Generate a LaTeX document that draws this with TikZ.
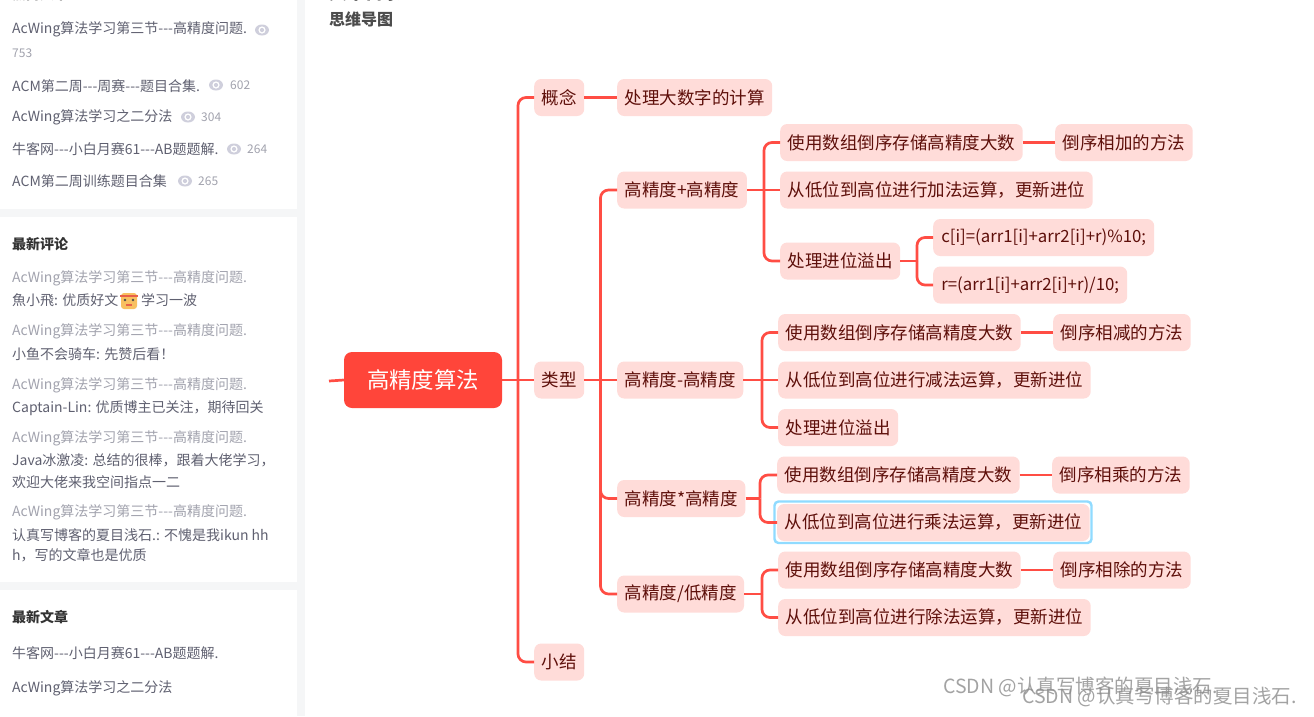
\documentclass[tikz,border=0pt]{standalone}
\usepackage{fontspec}
\setmainfont[Ligatures=TeXOff]{Noto Sans CJK SC}
\usepackage{xcolor}
\usetikzlibrary{calc}
\definecolor{pagebg}{HTML}{F5F6F7}
\definecolor{mapred}{HTML}{FF453A}
\definecolor{mapline}{HTML}{FF4D44}
\definecolor{mapfill}{HTML}{FFDCD9}
\definecolor{mapink}{HTML}{5E0F0A}
\definecolor{focusblue}{HTML}{90DBFF}
\definecolor{sidegray}{HTML}{5F6070}
\definecolor{lightgray2}{HTML}{A2A3AE}
\definecolor{eyegray}{HTML}{CFCFDC}
\definecolor{markgray}{HTML}{8C8C8C}
\definecolor{facecol}{HTML}{F8C060}
\definecolor{bandcol}{HTML}{E8604A}
\tikzset{
  topic/.style={fill=mapfill,rounded corners=7pt,text=mapink,anchor=west,inner xsep=7.5pt,
    inner ysep=0pt,minimum height=37pt,font=\fontsize{17.5}{20}\selectfont},
  codetopic/.style={topic,font=\fontsize{16.8}{20}\selectfont},
  rootbox/.style={fill=mapred,rounded corners=8pt,text=white,minimum width=158pt,
    minimum height=56pt,font=\fontsize{22.4}{26}\selectfont},
  link/.style={draw=mapline,line width=2.7pt,rounded corners=8pt},
  side/.style={anchor=west,inner sep=0pt,yshift=-0.7pt,text=sidegray,font=\fontsize{14}{17}\selectfont},
  sidelight/.style={side,text=lightgray2},
  sidehead/.style={side,text=black!80,font=\fontsize{14}{17}\selectfont\bfseries},
  numtag/.style={side,text=lightgray2,font=\fontsize{12}{14}\selectfont},
  wmark/.style={anchor=west,inner sep=0pt,text=markgray,opacity=0.8,font=\fontsize{19.5}{22}\selectfont},
}
\newcommand{\eyeicon}[2]{%
  \fill[eyegray] (#1,#2) ellipse (7pt and 5.5pt);
  \fill[white] (#1,#2) circle (3.6pt);
  \fill[eyegray] (#1,#2) circle (2.1pt);
}
\begin{document}
\begin{tikzpicture}[x=1pt,y=-1pt]
  \useasboundingbox (0,0) rectangle (1314,716);

  % page and panels
  \fill[pagebg] (0,0) rectangle (1314,716);
  \fill[white] (0,-5) rectangle (297,209);
  \fill[white] (0,217) rectangle (297,582);
  \fill[white] (0,590) rectangle (297,720);
  \fill[white] (305,-5) rectangle (1314,720);

  % cut off at the top
  \node[sidehead] (hothead) at (12,-6.5) {热门文章};
  \node[side,text=black!80,font=\fontsize{18}{19}\selectfont\bfseries] (tochead) at (329,-8.5) {文章目录};
  \node[side,text=black!70,font=\fontsize{16}{19}\selectfont\bfseries] (maphead) at (329,19) {思维导图};

  % most read
  \foreach \i/\ypos/\txt in {1/29/AcWing算法学习第三节---高精度问题.,2/85/ACM第二周---周赛---题目合集.,
      3/117/AcWing算法学习之二分法,4/148/牛客网---小白月赛61---AB题题解.,5/180/ACM第二周训练题目合集}
    \node[side] (read\i) at (12,\ypos) {\txt};
  \foreach \xpos/\ypos in {262/30,216/85,188/117,234/149,185/181}{
    \eyeicon{\xpos}{\ypos}
  }
  \node[numtag] (num1) at (12,53) {753};
  \node[numtag] (num2) at (230,85) {602};
  \node[numtag] (num3) at (201,117) {304};
  \node[numtag] (num4) at (247,149) {264};
  \node[numtag] (num5) at (198,181) {265};

  % latest comments
  \node[sidehead] (commenthead) at (12,243) {最新评论};
  \foreach \i/\ypos in {1/278,2/331,3/385,4/438,5/512}
    \node[sidelight] (ctitle\i) at (12,\ypos) {AcWing算法学习第三节---高精度问题.};
  \node[side] (cmt1) at (12,299.5) {魚小飛: 优质好文};
  \fill[facecol,rounded corners=3pt] (121,293) rectangle (137,309);
  \fill[bandcol] (120,294.5) rectangle (138,296.5);
  \fill[black!70] (125,300) circle (1.3pt) (133,300) circle (1.3pt);
  \fill[bandcol] (126,304) rectangle (132,306);
  \node[side] (cmt1b) at (141,299.5) {学习一波};
  \node[side] (cmt2) at (12,353) {小鱼不会骑车: 先赞后看！};
  \node[side] (cmt3) at (12,407) {Captain-Lin: 优质博主已关注，期待回关};
  \node[side] (cmt4) at (12,460) {Java冰激凌: 总结的很棒，跟着大佬学习，};
  \node[side] (cmt4b) at (12,481) {欢迎大佬来我空间指点一二};
  \node[side] (cmt5) at (12,534) {认真写博客的夏目浅石.: 不愧是我ikun hh};
  \node[side] (cmt5b) at (12,555) {h，写的文章也是优质};

  % latest articles
  \node[sidehead] (posthead) at (12,616) {最新文章};
  \node[side] (post1) at (12,652) {牛客网---小白月赛61---AB题题解.};
  \node[side] (post2) at (12,688) {AcWing算法学习之二分法};

  % map: first levels
  \node[rootbox] (root) at (423,380) {高精度算法};
  \node[topic] (concept) at (534,97.5) {概念};
  \node[topic] (kinds) at (534,380) {类型};
  \node[topic] (summary) at (534,662) {小结};
  \node[topic] (bignum) at (617,97.5) {处理大数字的计算};

  % addition
  \node[topic] (add) at (617,190) {高精度+高精度};
  \node[topic] (addstore) at (780,142.5) {使用数组倒序存储高精度大数};
  \node[topic] (addway) at (1055,142.5) {倒序相加的方法};
  \node[topic] (addrun) at (780,190) {从低位到高位进行加法运算，更新进位};
  \node[topic] (addover) at (780,261) {处理进位溢出};
  \node[codetopic,minimum width=221pt] (addc) at (933,237.5) {c[i]=(arr1[i]+arr2[i]+r)\%10;};
  \node[codetopic,minimum width=194pt] (addr) at (933,285) {r=(arr1[i]+arr2[i]+r)/10;};

  % subtraction
  \node[topic] (sub) at (617,380) {高精度-高精度};
  \node[topic] (substore) at (778,332.5) {使用数组倒序存储高精度大数};
  \node[topic] (subway) at (1053,332.5) {倒序相减的方法};
  \node[topic] (subrun) at (778,380) {从低位到高位进行减法运算，更新进位};
  \node[topic] (subover) at (778,427.5) {处理进位溢出};

  % multiplication
  \draw[focusblue,line width=2.4pt,rounded corners=4pt] (774.5,501.5) rectangle (1091.5,543);
  \node[topic] (mul) at (617,498.5) {高精度*高精度};
  \node[topic] (mulstore) at (777,475) {使用数组倒序存储高精度大数};
  \node[topic] (mulway) at (1052,475) {倒序相乘的方法};
  \node[topic] (mulrun) at (777,522.5) {从低位到高位进行乘法运算，更新进位};

  % division
  \node[topic] (dvd) at (617,594) {高精度/低精度};
  \node[topic] (dvdstore) at (778,570) {使用数组倒序存储高精度大数};
  \node[topic] (dvdway) at (1053,570) {倒序相除的方法};
  \node[topic] (dvdrun) at (778,617.5) {从低位到高位进行除法运算，更新进位};

  % connectors
  \coordinate (stub) at (329,381);
  \coordinate (trunkA) at (518,380);
  \coordinate (trunkB) at (600.5,380);
  \coordinate (addbar) at (764,190);
  \coordinate (overbar) at (917,261);
  \coordinate (subbar) at (762,380);
  \coordinate (mulbar) at (760,498.5);
  \coordinate (dvdbar) at (762,594);
  \draw[link] (stub) -- (root.west);
  \draw[link] (root.east) -- (kinds.west);
  \draw[link] (trunkA) |- (concept.west);
  \draw[link] (trunkA) |- (summary.west);
  \draw[link] (concept.east) -- (bignum.west);
  \draw[link] (kinds.east) -- (sub.west);
  \draw[link] (trunkB) |- (add.west);
  \draw[link] (trunkB) |- (mul.west);
  \draw[link] (trunkB) |- (dvd.west);
  \draw[link] (add.east) -- (addrun.west);
  \draw[link] (addbar) |- (addstore.west);
  \draw[link] (addbar) |- (addover.west);
  \draw[link] (addover.east) -- (overbar);
  \draw[link] (overbar) |- (addc.west);
  \draw[link] (overbar) |- (addr.west);
  \draw[link] (sub.east) -- (subrun.west);
  \draw[link] (subbar) |- (substore.west);
  \draw[link] (subbar) |- (subover.west);
  \draw[link] (mul.east) -- (mulbar);
  \draw[link] (mulbar) |- (mulstore.west);
  \draw[link] (mulbar) |- (mulrun.west);
  \draw[link] (dvd.east) -- (dvdbar);
  \draw[link] (dvdbar) |- (dvdstore.west);
  \draw[link] (dvdbar) |- (dvdrun.west);
  \draw[link] (addstore.east) -- (addway.west);
  \draw[link] (substore.east) -- (subway.west);
  \draw[link] (mulstore.east) -- (mulway.west);
  \draw[link] (dvdstore.east) -- (dvdway.west);

  % watermarks
  \node[wmark] (markA) at (943,687) {CSDN @认真写博客的夏目浅石.};
  \node[wmark] (markB) at (1022,697) {CSDN @认真写博客的夏目浅石.};
\end{tikzpicture}
\end{document}
